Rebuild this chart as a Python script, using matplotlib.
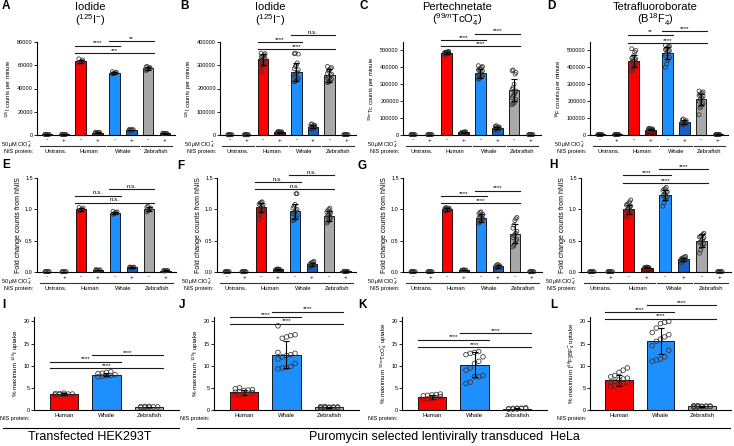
import numpy as np
import matplotlib
matplotlib.use('Agg')
import matplotlib.pyplot as plt
from matplotlib.ticker import FuncFormatter

plt.rcParams['font.family'] = ['Liberation Sans', 'DejaVu Sans']
plt.rcParams['mathtext.fontset'] = 'custom'
plt.rcParams['mathtext.rm'] = 'Liberation Sans'
plt.rcParams['mathtext.it'] = 'Liberation Sans:italic'
plt.rcParams['mathtext.bf'] = 'Liberation Sans:bold'

# data ------------------------------------------------------------------

groups = ['Untrans.', 'Human', 'Whale', 'Zebrafish']
species = ['Human', 'Whale', 'Zebrafish']
clo4 = ['-', '+', '-', '+', '-', '+', '-', '+']

# bar order: Untrans-, Untrans+, Human-, Human+, Whale-, Whale+, Zebra-, Zebra+
a_means = [450, 470, 63500, 2000, 53400, 4400, 57300, 1350]
a_sds = [100, 100, 1300, 300, 700, 300, 1300, 200]
a_points = [[300, 500, 400, 600, 350, 450], [400, 600, 500, 450, 550, 350],
            [63000, 64500, 62500, 65500, 63500, 62000], [1800, 2200, 2000, 2500, 1700, 2100],
            [53000, 54500, 52500, 53500, 52800, 54000], [4200, 4800, 4500, 4000, 4600, 4400],
            [57000, 58500, 56000, 59000, 57500, 55500, 58000], [1200, 1500, 1400, 1300, 1600, 1100]]
a_sig = ['****', '**', '***']
a_sig_y = [76800, 80900, 70300]

b_means = [1000, 1000, 325000, 12000, 272000, 35000, 256000, 1500]
b_sds = [300, 300, 22000, 2000, 38000, 7000, 28000, 400]
b_points = [[800, 1000, 1200, 900, 1100, 1000, 950, 1050],
            [800, 1000, 1200, 900, 1100, 1000, 950, 1050],
            [350000, 345000, 352000, 340000, 335000, 330000, 328000, 325000, 322000, 318000,
             312000, 305000, 300000, 295000, 272000, 338000],
            [9000, 11000, 13000, 15000, 12000, 10000, 14000, 12500, 11500, 13500, 10500, 12000],
            [350000, 348000, 352000, 310000, 300000, 295000, 285000, 280000, 270000, 265000,
             258000, 250000, 245000, 240000, 235000, 230000, 228000],
            [25000, 30000, 35000, 40000, 45000, 48000, 32000, 38000, 28000, 36000, 42000, 30000],
            [290000, 295000, 285000, 280000, 275000, 265000, 258000, 250000, 245000, 240000,
             235000, 230000, 228000, 225000, 262000, 248000],
            [1200, 1500, 1800, 1400, 1600, 1300, 1500, 1700]]
b_sig = ['****', 'n.s.', '****']
b_sig_y = [400000, 431000, 370000]

c_means = [2000, 2000, 485000, 15000, 365000, 42000, 265000, 2000]
c_sds = [500, 500, 8000, 3000, 28000, 8000, 65000, 500]
c_points = [[1500, 2000, 2500, 1800, 2200, 2000, 1700, 2300],
            [1500, 2000, 2500, 1800, 2200, 2000, 1700, 2300],
            [480000, 490000, 495000, 485000, 478000, 488000, 492000, 483000, 475000, 486000,
             490000, 481000, 487000, 484000, 479000],
            [11000, 13000, 15000, 17000, 19000, 14000, 16000, 12000, 18000, 15000],
            [410000, 405000, 400000, 395000, 390000, 380000, 370000, 365000, 360000, 350000,
             345000, 340000, 335000, 330000, 385000, 355000],
            [30000, 35000, 40000, 45000, 50000, 55000, 38000, 42000, 33000, 48000, 44000, 36000],
            [385000, 380000, 370000, 360000, 300000, 280000, 270000, 260000, 250000, 230000,
             210000, 200000, 190000, 185000, 180000, 240000, 220000],
            [1500, 2000, 2500, 1800, 2200, 2000, 1700, 2300]]
c_sig = ['****', '****', '****']
c_sig_y = [561000, 599000, 525000]

d_means = [3000, 3000, 440000, 32000, 485000, 75000, 210000, 3000]
d_sds = [800, 800, 35000, 5000, 35000, 12000, 35000, 800]
d_points = [[2000, 3000, 4000, 2500, 3500, 3000, 2800, 3200],
            [2000, 3000, 4000, 2500, 3500, 3000, 2800, 3200],
            [510000, 500000, 490000, 470000, 460000, 450000, 445000, 440000, 435000, 430000,
             420000, 410000, 400000, 390000, 380000, 455000],
            [25000, 28000, 30000, 32000, 35000, 38000, 40000, 27000, 33000, 36000, 29000, 31000],
            [530000, 525000, 520000, 515000, 510000, 500000, 495000, 490000, 480000, 470000,
             460000, 450000, 440000, 420000, 400000, 505000],
            [60000, 65000, 70000, 75000, 80000, 85000, 90000, 95000, 68000, 72000, 78000, 62000],
            [260000, 255000, 250000, 245000, 240000, 230000, 220000, 215000, 210000, 200000,
             190000, 180000, 170000, 160000, 120000, 235000],
            [2000, 3000, 4000, 2500, 3500, 3000, 2800, 3200]]
d_sig = ['**', '****', '****']
d_sig_y = [594000, 613000, 545000]

e_means = [0.005, 0.005, 1.0, 0.03, 0.94, 0.075, 1.0, 0.02]
e_sds = [0.002, 0.002, 0.02, 0.005, 0.02, 0.005, 0.03, 0.004]
e_points = [[0.004, 0.006, 0.005, 0.005, 0.004, 0.006], [0.004, 0.006, 0.005, 0.005, 0.004, 0.006],
            [1.0, 1.02, 0.98, 1.03, 0.99, 0.97], [0.03, 0.035, 0.025, 0.04, 0.03, 0.028],
            [0.94, 0.96, 0.92, 0.95, 0.93, 0.97], [0.07, 0.075, 0.08, 0.072, 0.078, 0.076],
            [1.0, 1.03, 0.98, 1.05, 0.96, 1.02, 0.99], [0.02, 0.025, 0.018, 0.022, 0.02, 0.016]]
e_sig = ['n.s.', 'n.s.', 'n.s.']
e_sig_y = [1.22, 1.32, 1.105]

f_means = [0.005, 0.005, 1.03, 0.04, 0.97, 0.12, 0.9, 0.01]
f_sds = [0.002, 0.002, 0.07, 0.008, 0.12, 0.03, 0.08, 0.003]
f_points = [[0.004, 0.006, 0.005, 0.005, 0.004, 0.006, 0.005, 0.005],
            [0.004, 0.006, 0.005, 0.005, 0.004, 0.006, 0.005, 0.005],
            [1.1, 1.12, 1.08, 1.05, 1.03, 1.0, 0.98, 0.95, 0.92, 0.85, 1.07, 1.02, 0.99, 1.11],
            [0.03, 0.04, 0.05, 0.035, 0.045, 0.04, 0.038, 0.042],
            [1.25, 1.25, 1.08, 1.05, 1.0, 0.98, 0.95, 0.93, 0.9, 0.87, 0.85, 0.83, 0.82, 1.02, 0.96],
            [0.08, 0.1, 0.12, 0.14, 0.16, 0.17, 0.11, 0.13, 0.09, 0.15],
            [1.02, 1.0, 0.98, 0.95, 0.92, 0.9, 0.88, 0.85, 0.82, 0.8, 0.78, 0.93, 0.87, 0.96],
            [0.008, 0.01, 0.012, 0.009, 0.011, 0.01, 0.01, 0.012]]
f_sig = ['n.s.', 'n.s.', 'n.s.']
f_sig_y = [1.43, 1.54, 1.32]

g_means = [0.005, 0.005, 1.0, 0.03, 0.86, 0.09, 0.61, 0.005]
g_sds = [0.002, 0.002, 0.02, 0.005, 0.06, 0.02, 0.15, 0.002]
g_points = [[0.004, 0.006, 0.005, 0.005, 0.004, 0.006, 0.005, 0.005],
            [0.004, 0.006, 0.005, 0.005, 0.004, 0.006, 0.005, 0.005],
            [1.0, 1.01, 0.99, 1.02, 0.98, 1.0, 1.01, 0.99, 1.03, 0.97, 1.0, 1.02],
            [0.025, 0.03, 0.035, 0.03, 0.028, 0.032, 0.03, 0.027],
            [0.96, 0.95, 0.93, 0.9, 0.88, 0.86, 0.84, 0.82, 0.8, 0.78, 0.92, 0.85, 0.87],
            [0.06, 0.08, 0.1, 0.12, 0.09, 0.07, 0.11, 0.1],
            [0.87, 0.85, 0.82, 0.75, 0.7, 0.65, 0.6, 0.58, 0.55, 0.5, 0.45, 0.42, 0.4, 0.62, 0.52],
            [0.004, 0.006, 0.005, 0.005, 0.004, 0.006, 0.005, 0.005]]
g_sig = ['****', '****', '****']
g_sig_y = [1.21, 1.30, 1.10]

h_means = [0.005, 0.005, 1.0, 0.07, 1.23, 0.2, 0.5, 0.005]
h_sds = [0.002, 0.002, 0.07, 0.01, 0.08, 0.03, 0.1, 0.002]
h_points = [[0.004, 0.006, 0.005, 0.005, 0.004, 0.006, 0.005, 0.005],
            [0.004, 0.006, 0.005, 0.005, 0.004, 0.006, 0.005, 0.005],
            [1.15, 1.12, 1.1, 1.07, 1.05, 1.02, 1.0, 0.98, 0.95, 0.93, 0.9, 0.88, 1.03, 0.97, 1.08],
            [0.06, 0.07, 0.08, 0.065, 0.075, 0.07, 0.068, 0.072],
            [1.35, 1.33, 1.32, 1.3, 1.28, 1.25, 1.23, 1.2, 1.18, 1.15, 1.1, 1.05, 1.27, 1.22],
            [0.15, 0.17, 0.19, 0.21, 0.23, 0.25, 0.2, 0.18, 0.22, 0.24],
            [0.62, 0.6, 0.58, 0.56, 0.55, 0.52, 0.5, 0.48, 0.45, 0.42, 0.4, 0.35, 0.3, 0.57, 0.47],
            [0.004, 0.006, 0.005, 0.005, 0.004, 0.006, 0.005, 0.005]]
h_sig = ['****', '****', '****']
h_sig_y = [1.545, 1.636, 1.42]

# bar order: Human, Whale, Zebrafish
i_means = [3.6, 8.0, 0.7]
i_sds = [0.2, 0.4, 0.08]
i_points = [[3.5, 3.7, 3.6, 3.4, 3.8, 3.6, 3.5, 3.7],
            [7.5, 7.8, 8.2, 8.6, 8.3, 7.6, 8.0, 8.5, 7.7],
            [0.6, 0.7, 0.8, 0.7, 0.65, 0.75, 0.8, 0.6]]
i_sig = ['****', '****', '****']
i_sig_y = [10.9, 12.4, 9.4]

j_means = [4.0, 12.5, 0.6]
j_sds = [0.6, 3.0, 0.15]
j_points = [[5.0, 4.8, 4.6, 4.4, 4.2, 4.0, 3.8, 3.6, 3.4, 3.3, 4.5, 3.9],
            [19.0, 17.0, 16.8, 16.5, 16.2, 13.0, 12.8, 12.5, 12.3, 11.5, 10.5, 9.8, 9.6, 9.5, 9.3, 12.0],
            [0.4, 0.5, 0.6, 0.7, 0.8, 0.55, 0.65, 0.5, 0.6, 0.7, 0.45, 0.75]]
j_sig = ['****', '****', '****']
j_sig_y = [21.0, 22.2, 19.5]

k_means = [3.0, 10.2, 0.3]
k_sds = [0.5, 2.8, 0.1]
k_points = [[3.5, 3.6, 3.4, 3.2, 3.0, 2.8, 2.6, 2.5, 2.4, 3.3],
            [13.2, 13.0, 12.8, 12.5, 11.0, 10.5, 9.5, 9.0, 7.8, 7.5, 7.5, 6.3, 6.0, 12.0],
            [0.2, 0.3, 0.4, 0.25, 0.35, 0.5, 0.3, 0.2, 0.3, 0.4]]
k_sig = ['****', '****', '****']
k_sig_y = [15.9, 17.4, 14.2]

l_means = [6.7, 15.6, 0.8]
l_sds = [1.2, 3.0, 0.2]
l_points = [[9.5, 9.0, 8.5, 7.8, 7.5, 7.0, 6.8, 6.5, 6.3, 6.0, 5.8, 5.5, 5.3, 7.2, 6.2],
            [20.0, 19.8, 19.5, 18.5, 17.5, 17.0, 16.0, 15.5, 14.5, 13.5, 12.0, 11.5, 11.3, 11.0, 16.5],
            [0.6, 0.7, 0.8, 0.9, 1.0, 0.75, 0.85, 0.65, 0.8, 0.9, 0.7, 0.95]]
l_sig = ['****', '****', '****']
l_sig_y = [22.1, 23.6, 20.6]

# style -----------------------------------------------------------------

W, H = 734, 446
colors8 = ['#111111', '#111111', '#FF0000', '#8A0000', '#1E8FFF', '#1660C8', '#A8A8A8', '#404040']
colors3 = ['#FF0000', '#1E8FFF', '#A8A8A8']


def rect(x0, x1, y0, y1):
    '''pixel box -> figure fraction'''
    return [x0 / W, 1 - y1 / H, (x1 - x0) / W, (y1 - y0) / H]


def style_axes(ax, ylim, yticks, fmt, ylabel, ylabel_size):
    for s in ['top', 'right']:
        ax.spines[s].set_visible(False)
    for s in ['left', 'bottom']:
        ax.spines[s].set_linewidth(0.8)
    ax.set_ylim(*ylim)
    ax.set_yticks(yticks)
    ax.yaxis.set_major_formatter(FuncFormatter(fmt))
    ax.tick_params(axis='y', labelsize=4, length=2, width=0.6, pad=1)
    ax.tick_params(axis='x', length=0, pad=2)
    ax.set_ylabel(ylabel, fontsize=ylabel_size, labelpad=2)


def draw_bars(ax, means, sds, points, colors, width, spread, msize):
    x = np.arange(len(means))
    ax.bar(x, means, width, color=colors, edgecolor='black', linewidth=0.6, zorder=2)
    for i, pts in enumerate(points):
        pts = np.sort(pts)
        offs = np.array([((k % 5) - 2) * spread for k in range(len(pts))])
        ax.scatter(x[i] + offs, pts, s=msize, facecolor='none', edgecolor='#333333',
                   linewidth=0.55, zorder=3, clip_on=False)
    ax.errorbar(x, means, yerr=sds, fmt='none', ecolor='black', elinewidth=0.8,
                capsize=2, capthick=0.8, zorder=4)


def draw_sig(ax, pairs, labels, heights, half):
    for (i, j), lab, h in zip(pairs, labels, heights):
        ax.plot([i - half, j + half], [h, h], color='#1a1a1a', lw=0.8, clip_on=False, zorder=5)
        ax.annotate(lab, (0.5 * (i + j), h), xytext=(0, 0.2), textcoords='offset points',
                    ha='center', va='bottom', fontsize=4.5, annotation_clip=False)


def condition_labels(ax):
    '''- / + row, group underline and group names below an 8 bar panel'''
    x = np.arange(8)
    ax.set_xticks(x)
    ax.set_xticklabels(clo4, fontsize=4.5)
    tr = ax.get_xaxis_transform()
    for g, name in enumerate(groups):
        ax.plot([2 * g - 0.45, 2 * g + 1.45], [-0.118, -0.118], color='#333333', lw=0.8,
                transform=tr, clip_on=False)
        ax.text(2 * g + 0.5, -0.15, name, fontsize=4.2, ha='center', va='top', transform=tr)
    ax.text(-0.03, -0.055, r'50 $\mu$M ClO$_4^{-}$:', fontsize=4, ha='right', va='top',
            transform=ax.transAxes)
    ax.text(-0.03, -0.15, 'NIS protein:', fontsize=4, ha='right', va='top',
            transform=ax.transAxes)


fig = plt.figure(figsize=(7.34, 4.46), dpi=100)

int_fmt = lambda v, p: '%d' % v
one_fmt = lambda v, p: '%.1f' % v
pairs8 = [(2, 4), (4, 6), (2, 6)]
pairs3 = [(0, 1), (1, 2), (0, 2)]

row1 = [
    (rect(37, 175, 42, 135), a_means, a_sds, a_points, a_sig, a_sig_y, 80000, 20000,
     r'$^{125}$I counts per minute'),
    (rect(220, 356, 42, 135), b_means, b_sds, b_points, b_sig, b_sig_y, 400000, 100000,
     r'$^{125}$I counts per minute'),
    (rect(403, 541, 42, 135), c_means, c_sds, c_points, c_sig, c_sig_y, 550000, 100000,
     r'$^{99m}$Tc counts per minute'),
    (rect(590, 728, 42, 135), d_means, d_sds, d_points, d_sig, d_sig_y, 550000, 100000,
     r'$^{18}$F counts per minute'),
]
for r, m, s, p, sig, sy, top, step, yl in row1:
    ax = fig.add_axes(r)
    draw_bars(ax, m, s, p, colors8, 0.63, 0.06, 8)
    ax.set_xlim(-0.6, 7.6)
    style_axes(ax, (0, top), np.arange(0, top + 1, step), int_fmt, yl, 4.2)
    draw_sig(ax, pairs8, sig, sy, 0.33)
    condition_labels(ax)

row2 = [
    (rect(37, 176, 178, 272), e_means, e_sds, e_points, e_sig, e_sig_y),
    (rect(217, 356, 178, 272), f_means, f_sds, f_points, f_sig, f_sig_y),
    (rect(403, 542, 178, 272), g_means, g_sds, g_points, g_sig, g_sig_y),
    (rect(581, 731, 178, 272), h_means, h_sds, h_points, h_sig, h_sig_y),
]
for r, m, s, p, sig, sy in row2:
    ax = fig.add_axes(r)
    draw_bars(ax, m, s, p, colors8, 0.63, 0.06, 8)
    ax.set_xlim(-0.6, 7.6)
    style_axes(ax, (0, 1.5), [0, 0.5, 1.0, 1.5], one_fmt, 'Fold change counts from hNIS', 5)
    draw_sig(ax, pairs8, sig, sy, 0.33)
    condition_labels(ax)

row3 = [
    (rect(34, 179, 317, 410), i_means, i_sds, i_points, i_sig, i_sig_y,
     r'% maximum $^{125}$I uptake'),
    (rect(214, 359, 317, 410), j_means, j_sds, j_points, j_sig, j_sig_y,
     r'% maximum $^{125}$I uptake'),
    (rect(402, 547, 317, 410), k_means, k_sds, k_points, k_sig, k_sig_y,
     r'% maximum $^{99m}$TcO$_4^{-}$ uptake'),
    (rect(590, 731, 317, 410), l_means, l_sds, l_points, l_sig, l_sig_y,
     r'% maximum [$^{18}$F]BF$_4^{-}$ uptake'),
]
for r, m, s, p, sig, sy, yl in row3:
    ax = fig.add_axes(r)
    draw_bars(ax, m, s, p, colors3, 0.66, 0.1, 11)
    ax.set_xlim(-0.7, 2.7)
    style_axes(ax, (0, 21), [0, 5, 10, 15, 20], int_fmt, yl, 4.5)
    draw_sig(ax, pairs3, sig, sy, 0.33)
    ax.set_xticks(np.arange(3))
    ax.set_xticklabels(species, fontsize=4.3)
    ax.text(-0.03, -0.06, 'NIS protein:', fontsize=4, ha='right', va='top',
            transform=ax.transAxes)

# titles and panel letters
titles = [(90, 'Iodide', r'($^{125}$I$^{-}$)'),
          (270, 'Iodide', r'($^{125}$I$^{-}$)'),
          (457, 'Pertechnetate', r'($^{99m}$TcO$_4^{-}$)'),
          (655, 'Tetrafluoroborate', r'(B$^{18}$F$_4^{-}$)')]
for x, t1, t2 in titles:
    fig.text(x / W, 1 - 7 / H, t1, fontsize=8, ha='center', va='center')
    fig.text(x / W, 1 - 20 / H, t2, fontsize=8, ha='center', va='center')

letters = [('A', 2, 6), ('B', 180, 6), ('C', 360, 6), ('D', 547, 6),
           ('E', 2, 165), ('F', 177, 166), ('G', 358, 166), ('H', 549, 165),
           ('I', 2, 305), ('J', 179, 305), ('K', 358, 305), ('L', 550, 305)]
for lab, x, y in letters:
    fig.text(x / W, 1 - y / H, lab, fontsize=8.5, fontweight='bold', ha='left', va='center')

# cell line annotations at the bottom
fig.add_artist(plt.Line2D([3 / W, 179 / W], [1 - 428 / H, 1 - 428 / H], color='black', lw=0.8))
fig.add_artist(plt.Line2D([197 / W, 730 / W], [1 - 428 / H, 1 - 428 / H], color='black', lw=0.8))
fig.text(90 / W, 1 - 437 / H, 'Transfected HEK293T', fontsize=9, ha='center', va='center')
fig.text(444 / W, 1 - 437 / H, 'Puromycin selected lentivirally transduced  HeLa', fontsize=9,
         ha='center', va='center')

fig.savefig('out.png', dpi=100)
